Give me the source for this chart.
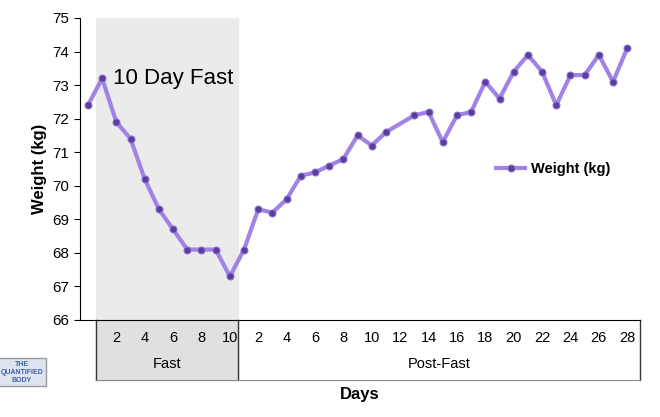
import numpy as np, pandas as pd, seaborn as sns, matplotlib
matplotlib.use("Agg")
import matplotlib.pyplot as plt
from matplotlib.patches import Rectangle

pre_day = [0]; pre_w = [72.4]
fast_days = list(range(1, 11))
fast_w = [73.2, 71.9, 71.4, 70.2, 69.3, 68.7, 68.1, 68.1, 68.1, 67.3]
post_days = [1,2,3,4,5,6,7,8,9,10,11,13,14,15,16,17,18,19,20,21,22,23,24,25,26,27,28]
post_w = [68.1,69.3,69.2,69.6,70.3,70.4,70.6,70.8,71.5,71.2,71.6,72.1,72.2,71.3,72.1,72.2,
          73.1,72.6,73.4,73.9,73.4,72.4,73.3,73.3,73.9,73.1,74.1]
fast_ticks = [2, 4, 6, 8, 10]
post_ticks = list(range(2, 29, 2))

idx = pre_day + fast_days + [10 + d for d in post_days]
df = pd.DataFrame({"i": idx, "w": pre_w + fast_w + post_w})

plt.rcParams["font.family"] = "Liberation Sans"
fig = plt.figure(figsize=(6.6, 4.17), dpi=100)
ax = fig.add_axes([80/660, 1-320/417, 560/660, 302/417])
ax.set_xlim(-0.56, 38.9); ax.set_ylim(66, 75)
ax.add_patch(Rectangle((0.56, 0), 10.04, 1, transform=ax.get_xaxis_transform(),
                       color="#ebebeb", zorder=0))
ax.add_patch(Rectangle((0.56, -60/302), 10.04, 60/302, transform=ax.get_xaxis_transform(),
                       color="#e0e0e0", zorder=0, clip_on=False))
sns.lineplot(data=df, x="i", y="w", ax=ax, color="#a083e6", lw=3, marker="o",
             markersize=5, markerfacecolor="#5a3d9c", markeredgecolor="#8a70d0",
             label="Weight (kg)")
ax.set_yticks(range(66, 76))
ax.tick_params(axis="y", labelsize=11, length=4)
ax.set_xticks(fast_ticks + [10 + t for t in post_ticks])
ax.set_xticklabels([str(t) for t in fast_ticks] + [str(t) for t in post_ticks], fontsize=10.5)
ax.tick_params(axis="x", length=0, pad=8)
for s in ["top", "right"]: ax.spines[s].set_visible(False)
tr = ax.get_xaxis_transform()
for x in [0.56, 10.6, 38.9]:
    ax.plot([x, x], [0, -60/302], transform=tr, color="#333", lw=1, clip_on=False)
ax.plot([0.56, 38.9], [-60/302, -60/302], transform=tr, color="#888", lw=0.8, clip_on=False)
ax.text(5.58, -48/302, "Fast", transform=tr, ha="center", fontsize=10.5)
ax.text(24.75, -48/302, "Post-Fast", transform=tr, ha="center", fontsize=10.5)
ax.set_xlabel("Days", fontsize=12, fontweight="bold", labelpad=30)
ax.set_ylabel("Weight (kg)", fontsize=12, fontweight="bold")
ax.text(1.8, 73.2, "10 Day Fast", fontsize=16, va="center")
ax.legend(loc="center left", bbox_to_anchor=(0.72, 0.5), frameon=False,
          prop={"weight": "bold", "size": 10.5}, handlelength=2.0, handletextpad=0.4)
fig.text(22/660, 1-372/417, "THE\nQUANTIFIED\nBODY", fontsize=5, color="#4060a0",
         ha="center", va="center", fontweight="bold",
         bbox=dict(facecolor="#dde4f0", edgecolor="#999", pad=2))
fig.savefig("out.png", dpi=100)
